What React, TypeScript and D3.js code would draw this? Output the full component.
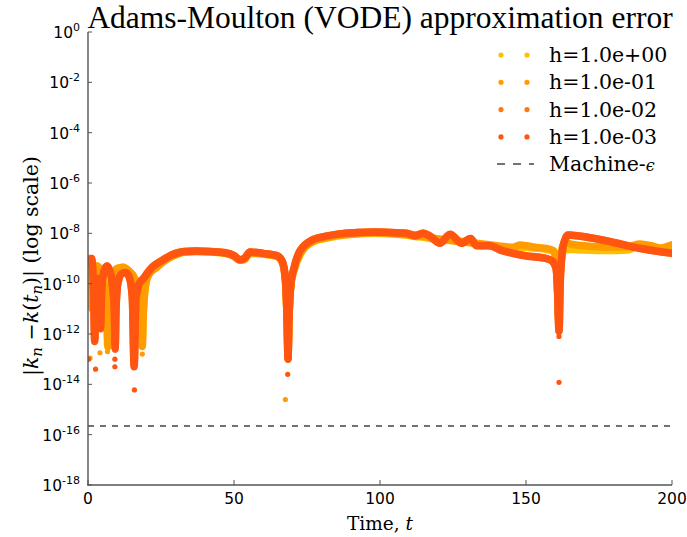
import React from "react";
import * as d3 from "d3";

const title = "Adams-Moulton (VODE) approximation error";
const xTicks = [0, 50, 100, 150, 200];
const yTickExps = [0, -2, -4, -6, -8, -10, -12, -14, -16, -18];
const machineEps = 2.22e-16;
const labels = ["h=1.0e+00", "h=1.0e-01", "h=1.0e-02", "h=1.0e-03"];
const colors = ["#ffc000", "#ff9c00", "#ff7810", "#ff5510"];

// [t, |error|]
const seriesH0: [number, number][] = [
  [0, 9e-10], [1.0, 8e-10], [2.0, 3e-10], [3.0, 5e-10], [4.2, 4e-10], [5.5, 1.5e-10], [6.3, 1e-11], [6.8, 3e-13], [7.3, 1e-11],
  [8.3, 1.6e-10], [10, 4e-10], [12, 4.5e-10], [14, 3.2e-10], [16, 1.6e-10], [17.5, 4e-11], [18.3, 3e-12], [18.6, 5e-13], [18.9, 5e-12],
  [19.8, 1e-10], [21, 2.5e-10], [23, 4e-10], [26, 7.9e-10], [30, 1.4e-9], [33, 1.8e-9], [37, 1.9e-9], [42, 1.8e-9], [47, 1.6e-9],
  [50, 1.2e-9], [52, 8.5e-10], [53.5, 9e-10], [55.5, 1.6e-9], [60, 1.5e-9], [64.7, 1.2e-9], [66.5, 7e-10], [67.6, 1.2e-10], [68.2, 3e-12],
  [68.5, 2e-13], [68.8, 3e-12], [69.5, 1e-10], [70.5, 3.2e-10], [72.6, 1.4e-9], [77, 4.5e-9], [82, 6.5e-9], [86, 8e-9], [92, 9.5e-9],
  [98, 1e-8], [104, 9.5e-9], [109, 8.5e-9], [112, 7.5e-9], [115, 7e-9], [118, 6e-9], [121, 5.6e-9], [125, 5e-9], [130, 4.3e-9],
  [135, 3.6e-9], [140, 3e-9], [145.5, 2.6e-9], [150, 2.8e-9], [153, 2.6e-9], [157, 2.3e-9], [159.5, 1.8e-9], [160.5, 5e-10], [161.2, 5e-12],
  [161.6, 3e-10], [162.3, 1.6e-9], [163.5, 2.2e-9], [166, 2.3e-9], [170, 2.2e-9], [177.7, 2.1e-9], [185, 2.2e-9], [189, 3.4e-9],
  [193, 2.6e-9], [197, 2e-9], [200, 3e-9],
];
const seriesH1: [number, number][] = [
  [0, 1e-9], [0.8, 6e-10], [1.4, 1e-11], [2.0, 3.2e-10], [3.2, 5e-10], [4.0, 1e-10], [4.5, 3.2e-12], [5.0, 1e-10], [5.8, 6.3e-11],
  [6.5, 6.3e-12], [6.9, 3.2e-13], [7.3, 1e-11], [8.3, 1.6e-10], [10, 4e-10], [12, 4.5e-10], [14, 3.2e-10], [16, 1.6e-10], [17.5, 4e-11],
  [18.3, 3.2e-12], [18.6, 3.2e-13], [18.9, 6.3e-12], [19.8, 1e-10], [21, 2.5e-10], [23, 4e-10], [26, 7.9e-10], [30, 1.4e-9],
  [33, 1.8e-9], [37, 1.9e-9], [42, 1.85e-9], [47, 1.6e-9], [50, 1.25e-9], [52, 8.5e-10], [53.5, 9e-10], [55.5, 1.7e-9], [60, 1.5e-9],
  [64.7, 1.25e-9], [66.5, 7.5e-10], [67.6, 1.4e-10], [68.2, 3.2e-12], [68.5, 1.5e-13], [68.8, 3.2e-12], [69.5, 1e-10], [70.5, 3.5e-10],
  [72.6, 1.5e-9], [77, 4.8e-9], [82, 7e-9], [86, 8.5e-9], [92, 9.8e-9], [98, 1.05e-8], [104, 1e-8], [109, 9e-9], [112, 8e-9],
  [115, 7.5e-9], [118, 6.5e-9], [121, 5.8e-9], [125, 5.2e-9], [130, 4.5e-9], [135, 3.8e-9], [140, 3.2e-9], [145.5, 2.8e-9],
  [148, 3.4e-9], [150, 3.2e-9], [153, 2.8e-9], [157, 2.5e-9], [159.5, 2e-9], [160.5, 5e-10], [161.2, 3.2e-12], [161.6, 3.2e-10],
  [162.3, 2.5e-9], [163.5, 4.5e-9], [165, 3.8e-9], [170, 3.2e-9], [177.7, 2.8e-9], [185, 3e-9], [189, 3.8e-9], [193, 3.2e-9],
  [196, 2.6e-9], [200, 3.5e-9],
];
const seriesH2: [number, number][] = [
  [0, 8e-10], [1.2, 1e-9], [1.9, 8e-11], [2.3, 6e-13], [2.7, 6e-11], [3.3, 1.6e-10], [3.9, 3.5e-11], [4.3, 2e-12], [4.7, 6.3e-11],
  [5.5, 3.2e-10], [6.5, 5e-10], [7.5, 3.2e-10], [8.5, 6.3e-11], [9.0, 1e-11], [9.3, 3e-13], [9.6, 1e-11], [10.2, 1e-10], [11.5, 2.5e-10],
  [13, 2.8e-10], [14.3, 1.6e-10], [15.2, 2.5e-11], [15.8, 6e-14], [16.4, 2.5e-11], [17.5, 1e-10], [19, 1.6e-10], [20.5, 2.8e-10],
  [22, 4.5e-10], [25, 7.9e-10], [27, 1.1e-9], [30, 1.6e-9], [33, 1.9e-9], [37, 2e-9], [42, 1.9e-9], [47, 1.7e-9], [50, 1.3e-9],
  [52, 8.9e-10], [53.5, 1e-9], [55.5, 1.8e-9], [60, 1.6e-9], [64.7, 1.3e-9], [66.5, 7.9e-10], [67.6, 1.6e-10], [68.2, 3.2e-12],
  [68.5, 1e-13], [68.8, 3.2e-12], [69.5, 1e-10], [70.5, 4e-10], [72.6, 2e-9], [77, 5.6e-9], [82, 7.9e-9], [86, 9.5e-9], [92, 1.07e-8],
  [98, 1.12e-8], [104, 1.07e-8], [109, 1e-8], [112, 8.5e-9], [114.7, 1e-8], [117, 8e-9], [120.5, 4.2e-9], [124, 9e-9], [128, 4.2e-9],
  [131, 6.3e-9], [133, 3.3e-9], [137.7, 3.2e-9], [141, 2.3e-9], [145.5, 1.6e-9], [150, 1.3e-9], [157, 1e-9], [159, 8e-10],
  [160.3, 4e-10], [160.9, 3.2e-11], [161.3, 1.3e-12], [161.7, 1e-10], [162.3, 1.3e-9], [163.2, 5e-9], [164.4, 8.5e-9], [168, 7.9e-9],
  [177.7, 5e-9], [189, 2.6e-9], [200, 1.6e-9],
];
const seriesH3: [number, number][] = [
  [0, 7e-10], [1.2, 1e-9], [1.9, 6.3e-11], [2.3, 5e-13], [2.7, 5e-11], [3.3, 1.6e-10], [3.9, 3.2e-11], [4.3, 1.6e-12], [4.7, 6.3e-11],
  [5.5, 3.2e-10], [6.5, 5e-10], [7.5, 3.2e-10], [8.5, 6.3e-11], [9.0, 1e-11], [9.3, 2.5e-13], [9.6, 1e-11], [10.2, 1e-10],
  [11.5, 2.5e-10], [13, 2.8e-10], [14.3, 1.6e-10], [15.2, 2.5e-11], [15.8, 5e-14], [16.4, 2.5e-11], [17.5, 1e-10], [19, 1.6e-10],
  [20.5, 2.8e-10], [22, 4.5e-10], [25, 7.9e-10], [27, 1.1e-9], [30, 1.6e-9], [33, 1.9e-9], [37, 2e-9], [42, 1.9e-9], [47, 1.7e-9],
  [50, 1.3e-9], [52, 8.9e-10], [53.5, 1e-9], [55.5, 1.8e-9], [60, 1.6e-9], [64.7, 1.3e-9], [66.5, 7.9e-10], [67.6, 1.6e-10],
  [68.2, 3.2e-12], [68.5, 1e-13], [68.8, 3.2e-12], [69.5, 1e-10], [70.5, 4e-10], [72.6, 2e-9], [77, 5.6e-9], [82, 7.9e-9], [86, 9.5e-9],
  [92, 1.07e-8], [98, 1.12e-8], [104, 1.07e-8], [109, 1e-8], [112, 7.9e-9], [114.7, 1e-8], [117, 7.9e-9], [120.5, 4e-9], [124, 9.3e-9],
  [128, 4e-9], [131, 6.3e-9], [133, 3.2e-9], [137.7, 3.2e-9], [141, 2.2e-9], [145.5, 1.6e-9], [150, 1.26e-9], [157, 1e-9], [159, 7.9e-10],
  [160.3, 4e-10], [160.9, 3.2e-11], [161.3, 1.26e-12], [161.7, 1e-10], [162.3, 1.26e-9], [163.2, 5e-9], [164.4, 8.5e-9], [168, 7.9e-9],
  [177.7, 5e-9], [189, 2.5e-9], [200, 1.6e-9],
];
const outliersH1: [number, number][] = [[0.7, 1.1e-13], [4.1, 1.8e-13], [6.7, 2e-13], [18.6, 1.6e-13], [67.6, 2.5e-15]];
const outliersH3: [number, number][] = [
  [0.2, 1e-13], [2.6, 4e-14], [9.2, 1e-13], [9.2, 5e-14], [15.9, 5.4e-14], [15.9, 6e-15], [68.4, 2.5e-14], [68.2, 1.6e-13],
  [161.3, 1.2e-14], [161.3, 8e-13],
];

const allSeries = [seriesH0, seriesH1, seriesH2, seriesH3];
const allOutliers = [[], outliersH1, [], outliersH3];

export default function App() {
  const W = 687, H = 537;
  const x = d3.scaleLinear().domain([0, 200]).range([88, 672]);
  const y = d3.scaleLog().domain([1e-18, 1]).range([485, 32]);
  const line = d3.line<[number, number]>().x((d) => x(d[0])).y((d) => y(d[1])).curve(d3.curveMonotoneX);
  const serif = "'DejaVu Serif', serif";
  const sans = "'DejaVu Sans', sans-serif";

  return (
    <svg width={W} height={H} style={{ position: "absolute", left: 0, top: 0, background: "#fff" }}>
      <defs>
        <clipPath id="plot">
          <rect x={88} y={32} width={584} height={453} />
        </clipPath>
      </defs>
      <rect width={W} height={H} fill="#fff" />
      <g clipPath="url(#plot)">
        {allSeries.map((s, i) => (
          <path key={"l" + i} d={line(s) || ""} fill="none" stroke={colors[i]} strokeWidth={7.5} strokeLinejoin="round" strokeLinecap="round" />
        ))}
        {allOutliers.map((s, i) =>
          (s as [number, number][]).map((p, j) => (
            <circle key={"o" + i + "_" + j} cx={x(p[0])} cy={y(p[1])} r={2.6} fill={colors[i]} />
          ))
        )}
        <line x1={88} x2={672} y1={y(machineEps)} y2={y(machineEps)} stroke="#444" strokeWidth={1.4} strokeDasharray="6,6" />
      </g>
      {/* axes */}
      <line x1={88} x2={88} y1={32} y2={485.5} stroke="#555" strokeWidth={1.4} />
      <line x1={87.3} x2={672} y1={485} y2={485} stroke="#555" strokeWidth={1.4} />
      {yTickExps.map((e) => {
        const yy = y(Math.pow(10, e));
        return (
          <g key={"y" + e}>
            <line x1={88} x2={92} y1={yy} y2={yy} stroke="#555" strokeWidth={1} />
            <text x={80} y={yy + 6} fontFamily={sans} fontSize={15.5} textAnchor="end" fill="#000">
              10<tspan fontSize={11} dy={-7}>{String(e)}</tspan>
            </text>
          </g>
        );
      })}
      {xTicks.map((t) => (
        <g key={"x" + t}>
          <line x1={x(t)} x2={x(t)} y1={485} y2={480} stroke="#555" strokeWidth={1} />
          <text x={x(t)} y={504} fontFamily={sans} fontSize={15.5} textAnchor="middle" fill="#000">{t}</text>
        </g>
      ))}
      <text x={380} y={28} fontFamily={"'Liberation Serif', serif"} fontSize={31.5} textAnchor="middle" fill="#000">{title}</text>
      <text x={380} y={530} fontFamily={serif} fontSize={18.5} textAnchor="middle" fill="#000">
        Time, <tspan fontStyle="italic">t</tspan>
      </text>
      <text transform="translate(38,376) rotate(-90)" fontFamily={serif} fontSize={20.5} textAnchor="start" fill="#000">
        |<tspan fontStyle="italic">k</tspan><tspan fontSize={15} dy={4} fontStyle="italic">n</tspan><tspan dy={-4}> −</tspan><tspan fontStyle="italic">k</tspan>(<tspan fontStyle="italic">t</tspan><tspan fontSize={15} dy={4} fontStyle="italic">n</tspan><tspan dy={-4}>)| (log scale)</tspan>
      </text>
      {/* legend */}
      {labels.map((lab, i) => {
        const cy = 55 + i * 27.3;
        return (
          <g key={"lg" + i}>
            <circle cx={501} cy={cy} r={2.6} fill={colors[i]} />
            <circle cx={527} cy={cy} r={2.6} fill={colors[i]} />
            <text x={549} y={cy + 7} fontFamily={serif} fontSize={20.5} fill="#000">{lab}</text>
          </g>
        );
      })}
      <line x1={495} x2={534} y1={164} y2={164} stroke="#444" strokeWidth={1.4} strokeDasharray="8,8" strokeDashoffset={-2} />
      <text x={549} y={171} fontFamily={serif} fontSize={20.5} fill="#000">
        Machine-<tspan fontStyle="italic" fontSize={16}>ϵ</tspan>
      </text>
    </svg>
  );
}
